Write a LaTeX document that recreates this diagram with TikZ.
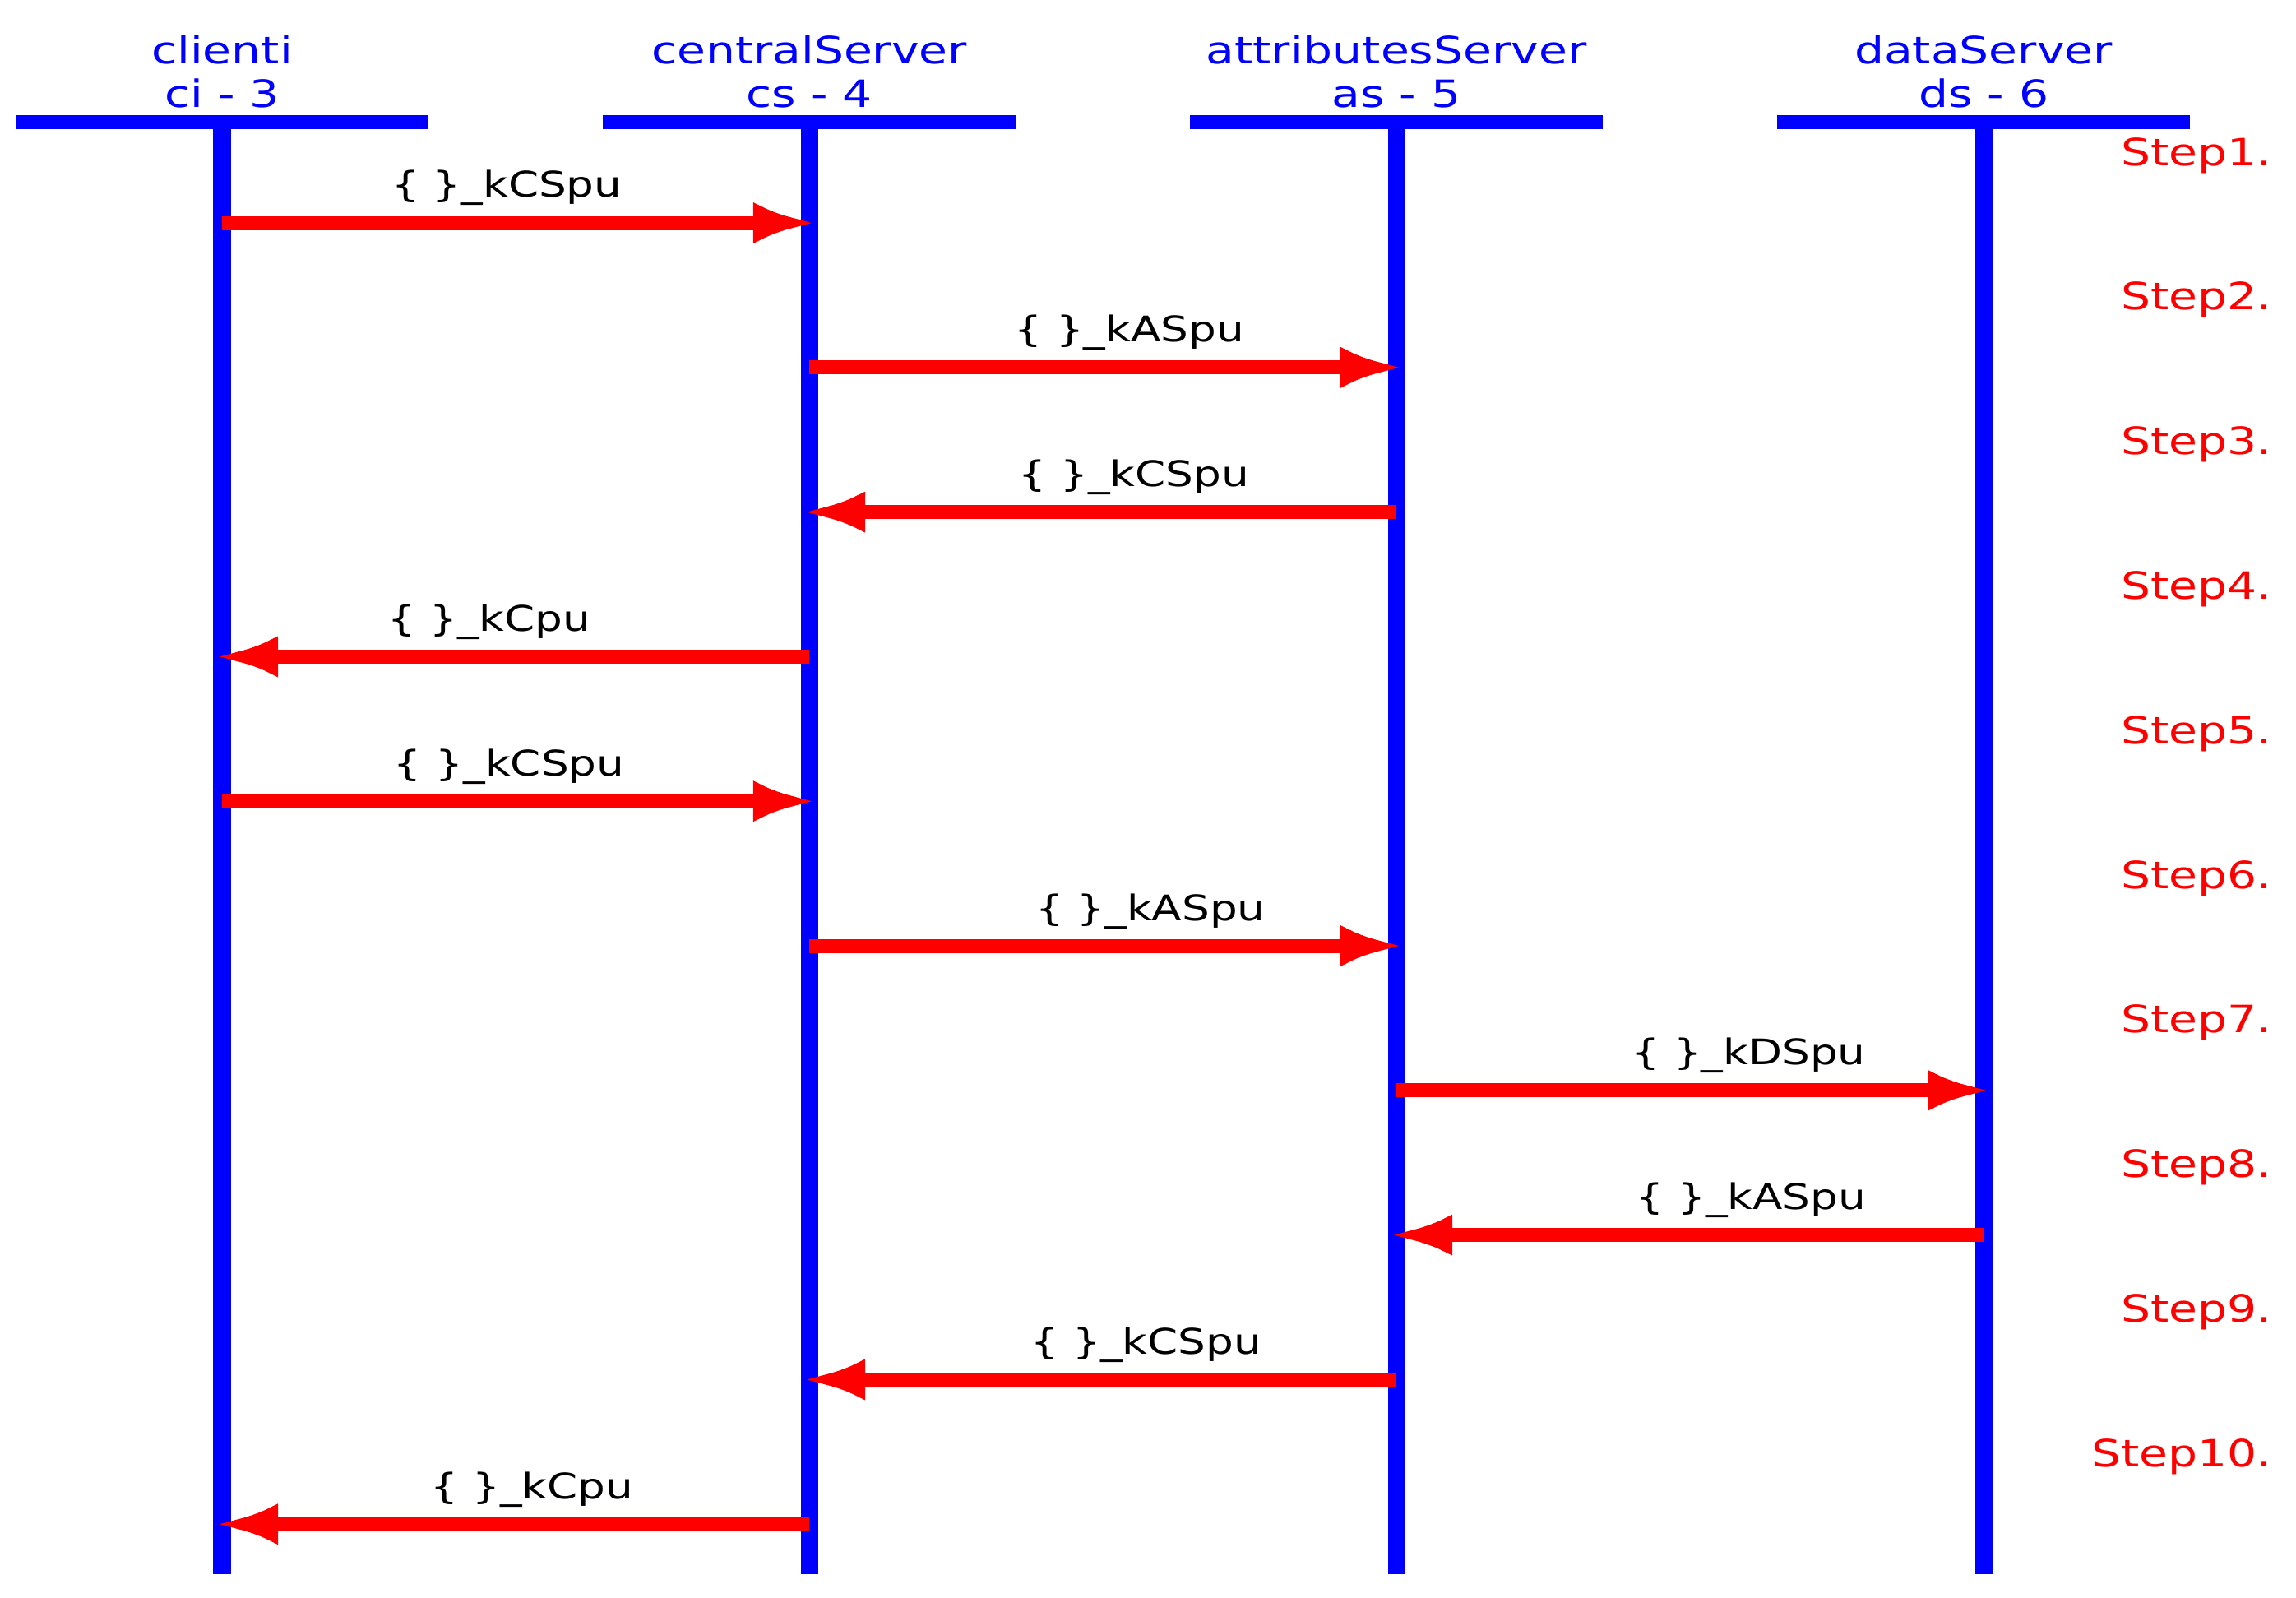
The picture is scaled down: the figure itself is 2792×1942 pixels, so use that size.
\documentclass[tikz,border=0pt]{standalone}
\usepackage{fontspec}
\setmainfont{DejaVu Sans}[FakeStretch=1.24]
\usetikzlibrary{arrows.meta}

\begin{document}
\begin{tikzpicture}[x=0.01cm, y=-0.01cm,
  head/.style={blue, align=center, anchor=base, inner sep=0pt, font=\fontsize{13}{14.8}\selectfont},
  headbar/.style={blue, line width=0.17cm},
  lifeline/.style={blue, line width=0.21cm},
  msg/.style={red, line width=0.17cm, shorten >=-0.1cm, -{Latex[length=0.78cm, width=0.5cm]}},
  msglabel/.style={black, anchor=base, yshift=0.31cm, inner sep=0pt, font=\fontsize{12.2}{15}\selectfont},
  steplabel/.style={red, anchor=base east, inner sep=0pt, font=\fontsize{13}{15}\selectfont}]

\useasboundingbox (0,0) rectangle (2792,1942);

% participants and lifelines
\foreach \n/\x/\first/\second in {ci/270/clienti/ci - 3, cs/984/centralServer/cs - 4,
    as/1698/attributesServer/as - 5, ds/2412/dataServer/ds - 6} {
  \node[head] (\n-head) at (\x,130) {\first\\\second};
  \coordinate (\n-top) at (\x,148);
  \coordinate (\n-bot) at (\x,1914);
  \draw[headbar] ([xshift=-2.51cm]\n-top) -- ([xshift=2.51cm]\n-top);
  \draw[lifeline] (\n-top) -- (\n-bot);
}

% steps
\foreach \i in {1,...,10} {
  \pgfmathsetmacro{\y}{271+(\i-1)*175.8}
  \foreach \n/\x in {ci/270, cs/984, as/1698, ds/2412}
    \coordinate (\n-\i) at (\x,\y);
  \node[steplabel] (step-\i) at (2763,\y-70) {Step\i.};
}

% messages
\foreach \i/\a/\b/\k/\p in {1/ci/cs/kCSpu/0.485, 2/cs/as/kASpu/0.545,
    3/as/cs/kCSpu/0.447, 4/cs/ci/kCpu/0.545, 5/ci/cs/kCSpu/0.489,
    6/cs/as/kASpu/0.581, 7/as/ds/kDSpu/0.6, 8/ds/as/kASpu/0.396,
    9/as/cs/kCSpu/0.426, 10/cs/ci/kCpu/0.472}
  \draw[msg] (\a-\i) -- node[msglabel, pos=\p] (m-\i) {\{ \}\_\k} (\b-\i);

\end{tikzpicture}
\end{document}
